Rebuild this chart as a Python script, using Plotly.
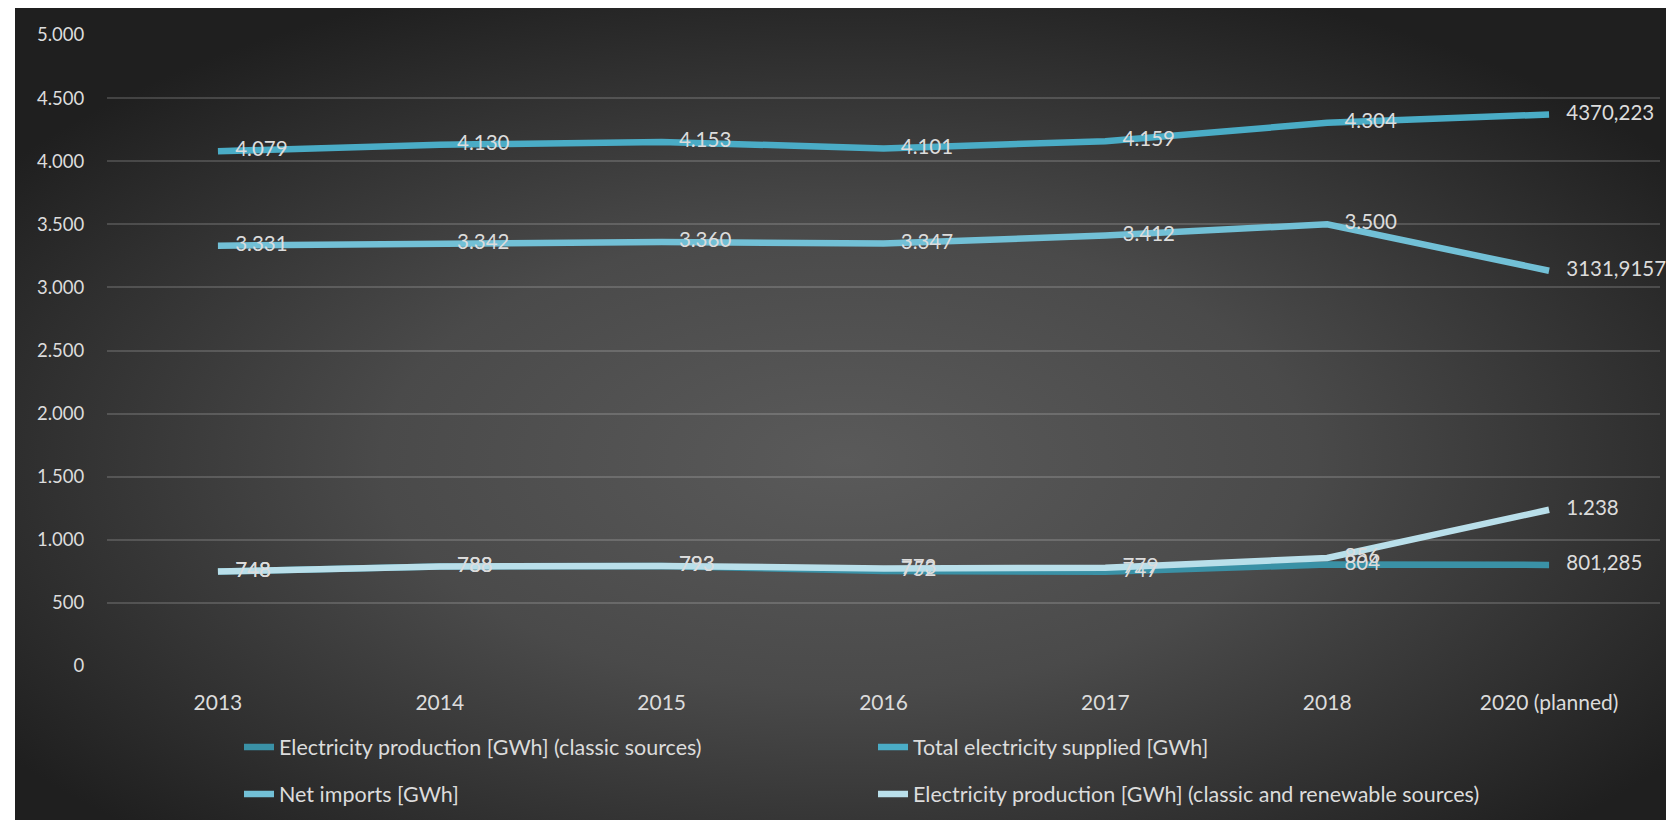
import base64
import plotly.graph_objects as go

categories = ["2013", "2014", "2015", "2016", "2017", "2018", "2020 (planned)"]
classic = [748, 788, 793, 752, 747, 804, 801.285]
total = [4079, 4130, 4153, 4101, 4159, 4304, 4370.223]
net_imports = [3331, 3342, 3360, 3347, 3412, 3500, 3131.9157]
renewable = [748, 788, 793, 773, 779, 856, 1238]
y_ticks = [0, 500, 1000, 1500, 2000, 2500, 3000, 3500, 4000, 4500, 5000]

names = [
    "Electricity production [GWh] (classic sources)",
    "Total electricity supplied [GWh]",
    "Net imports [GWh]",
    "Electricity production [GWh] (classic and renewable sources)",
]
colors = ["#3a91a6", "#4aacc6", "#72c0d6", "#b9dfea"]
series = [classic, total, net_imports, renewable]
legend_ids = ["legend", "legend", "legend2", "legend2"]


def fmt(v):
    if float(v).is_integer():
        return f"{int(v):,}".replace(",", ".")
    return str(v).replace(".", ",")


def fmt_tick(v):
    return f"{int(v):,}".replace(",", ".")


FONT = "Lato"
TXT = "#dcdcdc"

# page offset of the figure (browser body margin)
OFF = 8
W, H = 1674 - OFF, 820 - OFF
PL, PR, PT, PB = 107, 1660, 35, 666          # plot area in page pixels
L, T = PL - OFF, PT - OFF
pw, ph = PR - PL, PB - PT
R, B = W - L - pw, H - T - ph


def px_x(page_x):
    return (page_x - PL) / pw


def px_y(page_y):
    return (PB - page_y) / ph


fig = go.Figure()
for name, col, vals, lg in zip(names, colors, series, legend_ids):
    fig.add_trace(go.Scatter(
        x=categories, y=vals, name=name, legend=lg,
        mode="lines+markers+text",
        line=dict(color=col, width=6.5),
        marker=dict(size=26, color="rgba(0,0,0,0)"),
        text=[fmt(v) for v in vals],
        textposition="middle right",
        textfont=dict(family=FONT, size=20.5, color=TXT),
        cliponaxis=False,
    ))

svg = """<svg xmlns='http://www.w3.org/2000/svg' width='1659' height='813' viewBox='0 0 1659 813' preserveAspectRatio='none'>
<defs><radialGradient id='g' cx='0.5' cy='0.55' r='0.62' fx='0.5' fy='0.55'>
<stop offset='0' stop-color='#5a5a5a'/>
<stop offset='0.45' stop-color='#4a4a4a'/>
<stop offset='1' stop-color='#1f1f1f'/>
</radialGradient></defs>
<rect x='0' y='0' width='1659' height='813' fill='url(#g)'/>
</svg>"""
src = "data:image/svg+xml;base64," + base64.b64encode(svg.encode()).decode()

fig.add_layout_image(dict(
    source=src, xref="paper", yref="paper",
    x=px_x(15), y=px_y(7),
    sizex=(1674 - 15) / pw, sizey=(830 - 7) / ph,
    xanchor="left", yanchor="top", sizing="stretch", layer="below",
))

legend_common = dict(
    orientation="h", xanchor="left", yanchor="middle",
    entrywidth=589, entrywidthmode="pixels",
    font=dict(family=FONT, size=21.5, color=TXT),
    bgcolor="rgba(0,0,0,0)",
)

fig.update_layout(
    width=W, height=H,
    margin=dict(l=L, r=R, t=T, b=B, autoexpand=False),
    paper_bgcolor="white",
    plot_bgcolor="rgba(0,0,0,0)",
    font=dict(family=FONT, size=19, color=TXT),
    showlegend=True,
    legend=dict(x=px_x(239), y=px_y(747), **legend_common),
    legend2=dict(x=px_x(239), y=px_y(794), **legend_common),
    xaxis=dict(
        type="category", range=[-0.5, len(categories) - 0.5],
        showgrid=False, zeroline=False, showline=False,
        ticks="outside", ticklen=18, tickcolor="rgba(0,0,0,0)",
        tickfont=dict(family=FONT, size=21, color=TXT),
    ),
    yaxis=dict(
        range=[0, 5000], tickvals=y_ticks, ticktext=[fmt_tick(v) for v in y_ticks],
        showgrid=True, gridcolor="rgba(255,255,255,0.16)", gridwidth=1.5,
        zeroline=False, showline=False,
        ticks="outside", ticklen=18, tickcolor="rgba(0,0,0,0)",
        tickfont=dict(family=FONT, size=18.5, color=TXT),
    ),
)

fig.write_html("out.html")
